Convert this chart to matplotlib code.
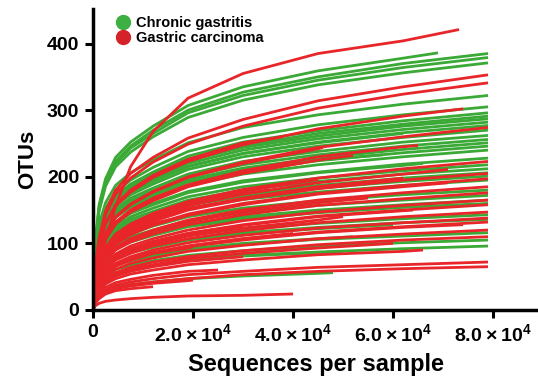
import matplotlib
matplotlib.use("Agg")
import matplotlib.pyplot as plt
from matplotlib.lines import Line2D

plt.rcParams['font.family'] = ['Liberation Sans', 'DejaVu Sans']
plt.rcParams['font.weight'] = 'bold'
plt.rcParams['mathtext.fontset'] = 'custom'
plt.rcParams['mathtext.rm'] = 'Liberation Sans:bold'
plt.rcParams['mathtext.bf'] = 'Liberation Sans:bold'

# sampling depths shared by all curves (each curve stops at its own depth)
GRID = [0, 400, 1200, 2500, 4500, 7500, 12000, 19000, 30000, 45000, 62000, 79000]

# Chronic gastritis curves
green_end = [69000, 79000, 79000, 79000, 79000, 79000, 79000, 79000, 79000, 79000,
             79000, 79000, 62000, 79000, 79000, 79000, 79000, 58000, 66000, 79000,
             79000, 79000, 79000, 79000, 50000, 79000, 79000, 79000, 79000, 56000,
             79000, 79000, 60000, 79000, 52000, 79000, 79000, 50000, 48000, 79000,
             79000]
green_otus = [
    [0, 99, 158, 197, 229, 252, 276, 307, 335, 359, 378, 386],
    [0, 96, 154, 193, 223, 246, 270, 300, 327, 350, 370, 385],
    [0, 95, 152, 190, 220, 243, 265, 296, 322, 345, 364, 379],
    [0, 93, 148, 186, 215, 237, 260, 289, 315, 338, 356, 371],
    [0, 81, 129, 161, 187, 206, 225, 251, 274, 293, 309, 322],
    [0, 76, 122, 153, 177, 195, 214, 238, 259, 278, 293, 305],
    [0, 74, 118, 148, 172, 189, 207, 231, 252, 269, 284, 296],
    [0, 73, 116, 146, 169, 186, 204, 227, 247, 265, 279, 291],
    [0, 72, 115, 144, 166, 184, 201, 224, 244, 261, 276, 287],
    [0, 71, 113, 141, 164, 180, 197, 220, 240, 257, 271, 282],
    [0, 69, 111, 139, 161, 177, 194, 216, 235, 252, 266, 277],
    [0, 68, 108, 135, 157, 173, 189, 211, 230, 246, 259, 270],
    [0, 69, 110, 138, 160, 177, 193, 215, 235, 251, 265],
    [0, 64, 102, 128, 148, 164, 179, 200, 218, 233, 246, 256],
    [0, 63, 100, 126, 146, 161, 176, 196, 213, 228, 241, 251],
    [0, 62, 98, 123, 143, 157, 172, 192, 209, 224, 236, 246],
    [0, 60, 96, 120, 139, 154, 168, 187, 204, 218, 230, 240],
    [0, 62, 99, 124, 143, 158, 173, 193, 210, 225, 233],
    [0, 57, 90, 113, 131, 145, 158, 176, 192, 206, 217, 220],
    [0, 55, 87, 109, 126, 140, 153, 170, 185, 198, 209, 218],
    [0, 53, 85, 106, 123, 136, 148, 165, 180, 193, 204, 212],
    [0, 52, 82, 103, 119, 132, 144, 161, 175, 187, 198, 206],
    [0, 50, 80, 101, 117, 129, 141, 157, 171, 183, 193, 201],
    [0, 49, 78, 98, 113, 125, 137, 152, 166, 177, 187, 195],
    [0, 51, 81, 101, 117, 129, 141, 158, 172, 184, 186],
    [0, 45, 72, 90, 104, 115, 126, 140, 153, 164, 173, 180],
    [0, 43, 69, 86, 100, 110, 120, 134, 146, 157, 165, 172],
    [0, 41, 66, 83, 96, 106, 116, 129, 140, 150, 158, 165],
    [0, 40, 64, 80, 93, 102, 112, 125, 136, 146, 154, 160],
    [0, 41, 66, 82, 95, 105, 115, 128, 139, 149, 153],
    [0, 36, 57, 72, 83, 92, 100, 112, 122, 130, 137, 143],
    [0, 34, 54, 68, 79, 87, 95, 106, 116, 124, 131, 136],
    [0, 34, 54, 67, 78, 86, 94, 105, 114, 122, 128],
    [0, 29, 46, 58, 67, 74, 81, 90, 99, 106, 111, 116],
    [0, 30, 47, 59, 68, 76, 83, 92, 100, 107, 110],
    [0, 26, 42, 53, 61, 67, 74, 82, 89, 96, 101, 105],
    [0, 24, 38, 48, 56, 61, 67, 75, 82, 87, 92, 96],
    [0, 24, 38, 48, 55, 61, 67, 74, 81, 86, 88],
    [0, 15, 24, 30, 35, 38, 42, 47, 51, 55, 56],
    [0, 66, 105, 131, 152, 168, 183, 204, 223, 238, 252, 262],
    [0, 57, 91, 114, 132, 146, 160, 178, 194, 207, 219, 228],
]

# Gastric carcinoma curves
red_end = [73200, 79000, 79000, 74000, 79000, 38000, 65000, 46000, 52000, 79000,
           42000, 71000, 79000, 79000, 62000, 45000, 71000, 79000, 35000, 79000,
           55000, 25000, 79000, 79000, 64000, 79000, 50000, 18000, 79000, 79000,
           74000, 30000, 79000, 40000, 79000, 60000, 20000, 66000, 30000, 79000,
           79000, 25000, 20000, 12000, 40000]
red_otus = [
    [0, 30, 65, 105, 155, 215, 268, 318, 355, 385, 404, 421],
    [0, 60, 109, 148, 180, 205, 229, 258, 286, 314, 335, 353],
    [0, 58, 106, 143, 174, 198, 222, 249, 276, 303, 324, 341],
    [0, 52, 95, 129, 156, 177, 199, 223, 248, 272, 291, 302],
    [0, 47, 85, 115, 140, 159, 178, 200, 222, 244, 260, 274],
    [0, 53, 96, 130, 158, 180, 202, 226, 251, 260],
    [0, 44, 80, 108, 132, 150, 168, 188, 209, 230, 245, 247],
    [0, 46, 84, 114, 139, 158, 177, 199, 220, 242, 244],
    [0, 43, 78, 106, 129, 147, 164, 185, 205, 225, 232],
    [0, 38, 69, 94, 114, 129, 145, 163, 181, 198, 212, 223],
    [0, 43, 79, 107, 130, 148, 166, 186, 207, 221],
    [0, 37, 67, 90, 110, 125, 140, 157, 174, 191, 204, 211],
    [0, 35, 64, 86, 105, 119, 133, 150, 166, 182, 195, 205],
    [0, 33, 61, 83, 100, 114, 128, 144, 160, 175, 187, 197],
    [0, 35, 64, 87, 106, 121, 135, 152, 168, 185, 198],
    [0, 37, 68, 92, 112, 128, 143, 161, 178, 196],
    [0, 33, 60, 82, 99, 113, 127, 142, 158, 174, 185, 191],
    [0, 31, 57, 78, 94, 107, 120, 135, 150, 165, 176, 185],
    [0, 37, 67, 90, 110, 125, 140, 157, 174, 180],
    [0, 30, 55, 74, 90, 102, 114, 128, 143, 157, 167, 176],
    [0, 31, 56, 76, 92, 105, 118, 132, 147, 161, 168],
    [0, 36, 65, 88, 107, 122, 137, 153, 160],
    [0, 28, 51, 69, 84, 96, 107, 120, 134, 147, 157, 165],
    [0, 27, 49, 66, 81, 92, 103, 115, 128, 141, 150, 158],
    [0, 27, 49, 66, 80, 91, 102, 115, 127, 140, 149, 150],
    [0, 25, 46, 62, 75, 85, 96, 107, 119, 131, 140, 147],
    [0, 26, 47, 64, 78, 88, 99, 111, 123, 135, 140],
    [0, 34, 62, 84, 102, 116, 130, 140],
    [0, 23, 43, 58, 70, 80, 90, 101, 112, 123, 131, 138],
    [0, 22, 41, 55, 67, 77, 86, 96, 107, 117, 125, 132],
    [0, 22, 40, 55, 66, 75, 85, 95, 105, 116, 124, 128],
    [0, 26, 48, 65, 79, 90, 101, 113, 125],
    [0, 20, 37, 50, 61, 70, 78, 88, 97, 107, 114, 120],
    [0, 22, 41, 55, 67, 77, 86, 96, 107, 115],
    [0, 19, 34, 46, 56, 64, 72, 80, 89, 98, 105, 110],
    [0, 18, 33, 44, 54, 61, 68, 77, 85, 93, 100],
    [0, 22, 40, 55, 66, 75, 85, 93, 95],
    [0, 16, 29, 39, 47, 54, 60, 68, 75, 83, 88, 90],
    [0, 17, 31, 42, 51, 58, 65, 73, 80],
    [0, 12, 22, 30, 37, 42, 47, 53, 58, 64, 68, 72],
    [0, 11, 20, 27, 33, 38, 42, 47, 53, 58, 62, 65],
    [0, 14, 25, 34, 41, 46, 52, 58, 60],
    [0, 11, 19, 26, 32, 36, 40, 44, 45],
    [0, 10, 17, 24, 29, 32, 35],
    [0, 6, 10, 13, 15, 17, 19, 21, 22, 24],
]

GREEN = '#3aa935'
RED = '#e8262a'


def depths(x_end):
    return [g for g in GRID if g < x_end] + [x_end]


fig = plt.figure(figsize=(5.38, 3.87), dpi=100)
ax = fig.add_axes([0.173, 0.199, 0.827, 0.778])

for xe, ys in zip(green_end, green_otus):
    ax.plot(depths(xe), ys, color=GREEN, lw=2.0, solid_capstyle='butt')
for xe, ys in zip(red_end, red_otus):
    ax.plot(depths(xe), ys, color=RED, lw=2.0, solid_capstyle='butt')

ax.set_xlim(0, 89000)
ax.set_ylim(0, 452)
ax.set_xticks([0, 20000, 40000, 60000, 80000])
ax.set_xticklabels(['0', r'$2.0\times10^{4}$', r'$4.0\times10^{4}$',
                    r'$6.0\times10^{4}$', r'$8.0\times10^{4}$'])
ax.set_yticks([0, 100, 200, 300, 400])

for s in ['top', 'right']:
    ax.spines[s].set_visible(False)
for s in ['left', 'bottom']:
    ax.spines[s].set_linewidth(2.5)
ax.tick_params(axis='both', length=6, width=2.2, labelsize=14, pad=4)

ax.set_xlabel('Sequences per sample', fontsize=17, fontweight='bold', labelpad=5)
ax.set_ylabel('OTUs', fontsize=16, fontweight='bold', labelpad=6)

handles = [Line2D([], [], ls='none', marker='o', ms=10, color='#3cb043', label='Chronic gastritis'),
           Line2D([], [], ls='none', marker='o', ms=10, color='#d42228', label='Gastric carcinoma')]
ax.legend(handles=handles, loc='upper left', bbox_to_anchor=(0.035, 0.995), frameon=False,
          prop={'size': 10.5, 'weight': 'bold'}, handletextpad=0.3, labelspacing=0.05,
          handlelength=1.2, borderaxespad=0)

fig.savefig('out.png', dpi=100)
